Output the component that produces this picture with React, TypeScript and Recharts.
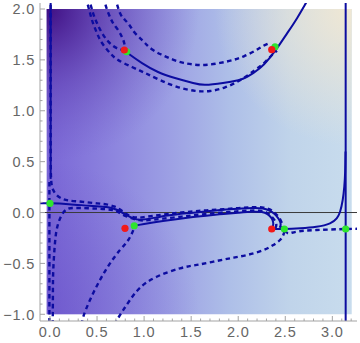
import React from 'react';
import { ComposedChart, Line, Scatter, XAxis, YAxis, ReferenceArea, ReferenceLine } from 'recharts';

type P = { x: number; y: number };
const pts = (a: number[][]): P[] => a.map(([x, y]) => ({ x, y }));

// axis ranges
const X_DOMAIN: [number, number] = [-0.106, 3.262];
const Y_DOMAIN: [number, number] = [-1.066, 2.059];
const xTicks = Array.from({ length: 33 }, (_, i) => +(i * 0.1).toFixed(1));
const yTicks = Array.from({ length: 31 }, (_, i) => +(-1 + i * 0.1).toFixed(1));

// upper region curves
const arcSolid = pts([[0.815,1.58],[0.85,1.55],[0.978,1.469],[1.148,1.381],[1.328,1.322],[1.52,1.273],[1.65,1.255],[1.838,1.273],[2.0,1.3],[2.094,1.332],[2.232,1.42],[2.33,1.515],[2.42,1.625],[2.519,1.76],[2.625,1.91],[2.72,2.06],[2.76,2.12]]);
const arcUpperDash = pts([[0.691,2.12],[0.744,1.96],[0.797,1.892],[0.85,1.833],[0.903,1.764],[0.978,1.695],[1.031,1.646],[1.095,1.597],[1.169,1.558],[1.243,1.528],[1.328,1.495],[1.42,1.47],[1.52,1.455],[1.647,1.45],[1.807,1.47],[1.95,1.5],[2.06,1.535],[2.18,1.59],[2.26,1.635],[2.33,1.665]]);
const arcLowerDash = pts([[0.38,2.12],[0.425,1.961],[0.457,1.862],[0.499,1.764],[0.553,1.666],[0.638,1.568],[0.723,1.499],[0.871,1.43],[1.01,1.371],[1.169,1.302],[1.35,1.235],[1.541,1.196],[1.7,1.194],[1.86,1.23],[2.019,1.3],[2.179,1.4],[2.285,1.479],[2.359,1.548],[2.412,1.59]]);
const dashToRedA = pts([[0.41,2.12],[0.457,1.961],[0.499,1.862],[0.553,1.764],[0.62,1.68],[0.7,1.62],[0.78,1.597]]);
const dashToRedB = pts([[0.57,2.12],[0.6,2.01],[0.638,1.921],[0.67,1.862],[0.723,1.794],[0.765,1.725],[0.79,1.66],[0.795,1.6]]);

// lower region curves
const leftSolid = pts([[0.007,2.12],[0.007,0.33]]);
const leftDashVert = pts([[-0.006,0.3],[-0.006,-1.1]]);
const solidTop = pts([[-0.106,0.091],[0,0.09],[0.2,0.082],[0.425,0.066],[0.6,0.054],[0.709,0.027],[0.815,-0.025],[0.885,-0.057],[0.956,-0.07],[1.063,-0.06],[1.25,-0.03],[1.45,-0.008],[1.65,0.01],[1.81,0.025],[2.0,0.037],[2.15,0.045],[2.26,0.04],[2.33,0.02],[2.38,-0.01],[2.42,-0.05],[2.445,-0.09],[2.45,-0.125],[2.44,-0.15]]);
const solidFromGreen = pts([[0.895,-0.13],[1.0,-0.112],[1.2,-0.083],[1.4,-0.058],[1.6,-0.037],[1.8,-0.018],[2.0,-0.002],[2.15,0.008],[2.25,0.005],[2.31,-0.015],[2.35,-0.05],[2.37,-0.09],[2.37,-0.13],[2.356,-0.162]]);
const solidRight = pts([[2.356,-0.162],[2.49,-0.162],[2.66,-0.155],[2.83,-0.14],[2.975,-0.106],[3.046,-0.057],[3.082,0.008],[3.11,0.123],[3.127,0.254],[3.136,0.4],[3.14,0.6]]);
const piLine = pts([[3.1416,-1.1],[3.1416,2.12]]);
const dashUnder = pts([[0.029,-1.1],[0.031,-0.8],[0.035,-0.565],[0.053,-0.3],[0.078,-0.14],[0.124,-0.025],[0.177,0.03],[0.25,0.045],[0.425,0.041],[0.6,0.032],[0.7,0.015],[0.76,-0.015],[0.85,-0.05],[0.95,-0.075],[1.05,-0.075],[1.2,-0.06],[1.4,-0.04],[1.6,-0.02],[1.9,0.005],[2.1,0.018],[2.22,0.018],[2.3,0.0],[2.35,-0.035],[2.39,-0.08],[2.405,-0.12],[2.395,-0.155]]);
const dashOver = pts([[0.007,2.12],[0.007,1.0],[0.008,0.5],[0.011,0.35],[0.018,0.27],[0.035,0.22],[0.071,0.172],[0.124,0.138],[0.2,0.118],[0.35,0.105],[0.5,0.09],[0.6,0.08],[0.68,0.06],[0.74,0.032],[0.8,-0.008],[0.86,-0.038],[0.93,-0.05],[1.0,-0.045],[1.2,-0.02],[1.4,0.0],[1.6,0.017],[1.8,0.03],[2.0,0.043],[2.15,0.052],[2.27,0.048],[2.34,0.028],[2.39,-0.005],[2.43,-0.045],[2.46,-0.095],[2.465,-0.135],[2.45,-0.16]]);
const dashRight = pts([[2.495,-0.175],[2.533,-0.205],[2.62,-0.188],[2.834,-0.172],[3.1416,-0.162],[3.3,-0.16]]);
const dashLowerRight = pts([[0.69,-1.1],[0.705,-1.066],[0.77,-0.97],[0.85,-0.86],[0.956,-0.74],[1.134,-0.631],[1.382,-0.548],[1.56,-0.515],[1.735,-0.483],[1.913,-0.45],[2.09,-0.418],[2.267,-0.369],[2.373,-0.319],[2.444,-0.27],[2.479,-0.221],[2.495,-0.175]]);
const dashLowerLeft = pts([[0.34,-1.1],[0.354,-1.024],[0.425,-0.86],[0.531,-0.663],[0.638,-0.5],[0.744,-0.369],[0.832,-0.27],[0.885,-0.172],[0.895,-0.13]]);

const redPoints = pts([[0.79,1.597],[2.356,1.6],[0.797,-0.155],[2.356,-0.162]]);
const greenPoints = pts([[0.815,1.58],[2.391,1.629],[0,0.09],[0.895,-0.13],[2.49,-0.162],[3.1416,-0.162]]);

const BLUE = '#0c0ca0';
const FRAME = '#a3a3a3';
const LABEL = '#666666';

const fmt = (v: number) => v.toFixed(1).replace('-', '\u2212');
const isMajor = (v: number) => Math.abs(v * 2 - Math.round(v * 2)) < 1e-6;

function FrameTick(props: any) {
  const { x, y, payload, side } = props;
  const v = payload.value as number;
  const major = isMajor(v);
  const len = major ? 5 : 2.5;
  let l: [number, number, number, number];
  if (side === 'bottom') l = [x, y, x, y - len];
  else if (side === 'top') l = [x, y, x, y + len];
  else if (side === 'left') l = [x, y, x + len, y];
  else l = [x, y, x - len, y];
  return (
    <g>
      <line x1={l[0]} y1={l[1]} x2={l[2]} y2={l[3]} stroke={FRAME} strokeWidth={1} />
      {major && side === 'bottom' && (
        <text x={x} y={y + 16} textAnchor="middle" fill={LABEL} fontSize={14.5} letterSpacing={0.8} fontFamily="Liberation Sans, Arial, sans-serif">{fmt(v)}</text>
      )}
      {major && side === 'left' && (
        <text x={x - 5} y={y} dy="0.36em" textAnchor="end" fill={LABEL} fontSize={14.5} letterSpacing={0.8} fontFamily="Liberation Sans, Arial, sans-serif">{fmt(v)}</text>
      )}
    </g>
  );
}

const solid = (data: P[], key: string, type: any = 'natural') => (
  <Line key={key} xAxisId="b" yAxisId="l" data={data} dataKey="y" type={type} stroke={BLUE} strokeWidth={2} dot={false} activeDot={false} isAnimationActive={false} />
);
const dashed = (data: P[], key: string, type: any = 'natural') => (
  <Line key={key} xAxisId="b" yAxisId="l" data={data} dataKey="y" type={type} stroke={BLUE} strokeWidth={2.4} strokeDasharray="4.5 3.5" dot={false} activeDot={false} isAnimationActive={false} />
);

export default function App() {
  return (
    <div style={{ position: 'absolute', left: 0, top: 0 }}>
      <ComposedChart width={360} height={343} margin={{ top: 3, right: 3, bottom: 0, left: 0 }}>
        <defs>
          <linearGradient id="bgBase" x1="0" y1="0" x2="1" y2="0">
            <stop offset="0%" stopColor="#7a66d6" />
            <stop offset="20%" stopColor="#8b82de" />
            <stop offset="40%" stopColor="#9c9fe4" />
            <stop offset="60%" stopColor="#aebfe8" />
            <stop offset="80%" stopColor="#c0d4ea" />
            <stop offset="100%" stopColor="#c8dced" />
          </linearGradient>
          <radialGradient id="bgTL" cx="0" cy="0" r="0.5">
            <stop offset="0%" stopColor="#3c0a7e" stopOpacity={0.95} />
            <stop offset="50%" stopColor="#5630a6" stopOpacity={0.45} />
            <stop offset="100%" stopColor="#6a50c0" stopOpacity={0} />
          </radialGradient>
          <radialGradient id="bgBL" cx="0" cy="1" r="0.5">
            <stop offset="0%" stopColor="#6248c4" stopOpacity={0.45} />
            <stop offset="100%" stopColor="#6248c4" stopOpacity={0} />
          </radialGradient>
          <radialGradient id="bgTR" cx="1" cy="0" r="0.45">
            <stop offset="0%" stopColor="#f2e8d2" stopOpacity={0.95} />
            <stop offset="100%" stopColor="#f2e8d2" stopOpacity={0} />
          </radialGradient>
        </defs>
        <XAxis xAxisId="b" type="number" dataKey="x" orientation="bottom" domain={X_DOMAIN} allowDataOverflow ticks={xTicks} interval={0} tickSize={0} tickMargin={0} tickLine={false} axisLine={{ stroke: FRAME }} height={22} tick={(p: any) => <FrameTick {...p} side="bottom" />} />
        <XAxis xAxisId="t" type="number" orientation="top" domain={X_DOMAIN} allowDataOverflow ticks={xTicks} interval={0} tickSize={0} tickMargin={0} tickLine={false} axisLine={{ stroke: FRAME }} height={0} tick={(p: any) => <FrameTick {...p} side="top" />} />
        <YAxis yAxisId="l" type="number" dataKey="y" orientation="left" domain={Y_DOMAIN} allowDataOverflow ticks={yTicks} interval={0} tickSize={0} tickMargin={0} tickLine={false} axisLine={{ stroke: FRAME }} width={40} tick={(p: any) => <FrameTick {...p} side="left" />} />
        <YAxis yAxisId="r" type="number" orientation="right" domain={Y_DOMAIN} allowDataOverflow ticks={yTicks} interval={0} tickSize={0} tickMargin={0} tickLine={false} axisLine={{ stroke: FRAME }} width={0} tick={(p: any) => <FrameTick {...p} side="right" />} />

        <ReferenceArea xAxisId="b" yAxisId="l" x1={-0.035} x2={3.206} y1={-1} y2={2} fill="url(#bgBase)" fillOpacity={1} stroke="none" ifOverflow="visible" />
        <ReferenceArea xAxisId="b" yAxisId="l" x1={-0.035} x2={3.206} y1={-1} y2={2} fill="url(#bgBL)" fillOpacity={1} stroke="none" ifOverflow="visible" />
        <ReferenceArea xAxisId="b" yAxisId="l" x1={-0.035} x2={3.206} y1={-1} y2={2} fill="url(#bgTL)" fillOpacity={1} stroke="none" ifOverflow="visible" />
        <ReferenceArea xAxisId="b" yAxisId="l" x1={-0.035} x2={3.206} y1={-1} y2={2} fill="url(#bgTR)" fillOpacity={1} stroke="none" ifOverflow="visible" />
        <ReferenceLine xAxisId="b" yAxisId="l" y={0} stroke="#3a3a3a" strokeWidth={1} />

        {solid(leftSolid, 'ls', 'linear')}
        {dashed(leftDashVert, 'ldv', 'linear')}
        {dashed(dashOver, 'dov')}
        {dashed(dashUnder, 'dun')}
        {dashed(dashLowerLeft, 'dll')}
        {dashed(dashLowerRight, 'dlr')}
        {dashed(dashRight, 'dr')}
        {solid(solidTop, 'st')}
        {solid(solidFromGreen, 'sg')}
        {solid(solidRight, 'sr')}
        {solid(piLine, 'pi', 'linear')}
        {dashed(arcUpperDash, 'aud')}
        {dashed(arcLowerDash, 'ald')}
        {dashed(dashToRedA, 'dra')}
        {dashed(dashToRedB, 'drb')}
        {solid(arcSolid, 'as')}

        <Scatter xAxisId="b" yAxisId="l" data={greenPoints} isAnimationActive={false} shape={(p: any) => <circle cx={p.cx} cy={p.cy} r={3.6} fill="#2ee62e" />} />
        <Scatter xAxisId="b" yAxisId="l" data={redPoints} isAnimationActive={false} shape={(p: any) => <circle cx={p.cx} cy={p.cy} r={3.6} fill="#f21a1a" />} />
      </ComposedChart>
    </div>
  );
}
